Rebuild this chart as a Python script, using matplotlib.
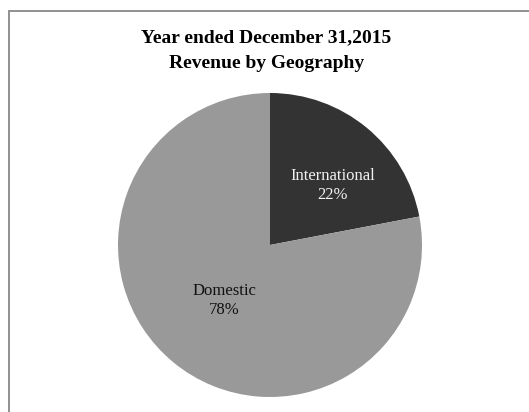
import matplotlib
matplotlib.use('Agg')
import matplotlib.pyplot as plt
import numpy as np
from matplotlib.patches import Rectangle

plt.rc('font', family='Liberation Serif')

# data
labels = ['International', 'Domestic']
shares = [22, 78]
colors = ['#333333', '#999999']
text_colors = ['#f2f2f2', '#111111']
label_dist = [0.57, 0.47]
title_lines = ['Year ended December 31,2015', 'Revenue by Geography']

W, H = 529, 412
fig = plt.figure(figsize=(W / 100, H / 100), dpi=100)

# outer frame (chart area border, partially cut off at right/bottom)
fig.patches.append(Rectangle((8.5 / W, -0.1), 1.2, 1 - 10.5 / H + 0.1,
                             transform=fig.transFigure, fill=False,
                             edgecolor='#888888', linewidth=1.3))

# titles
fig.text(266.5 / W, 1 - 38 / H, title_lines[0], ha='center', va='center',
         fontsize=14, fontweight='bold')
fig.text(266.5 / W, 1 - 63 / H, title_lines[1], ha='center', va='center',
         fontsize=14, fontweight='bold')

cx, cy, r = 270, 245, 152
ax = fig.add_axes([(cx - r) / W, (H - cy - r) / H, 2 * r / W, 2 * r / H])
wedges, _ = ax.pie(shares, colors=colors, startangle=90, counterclock=False,
                   radius=1, wedgeprops=dict(linewidth=0))
ax.set_xlim(-1, 1)
ax.set_ylim(-1, 1)

for w, lab, val, tc, d in zip(wedges, labels, shares, text_colors, label_dist):
    ang = np.deg2rad((w.theta1 + w.theta2) / 2)
    if lab == 'International':
        ang -= np.deg2rad(7)
    ax.text(d * np.cos(ang), d * np.sin(ang), f'{lab}\n{val}%',
            ha='center', va='center', fontsize=12, color=tc, linespacing=1.25)

fig.savefig('out.png', dpi=100)
